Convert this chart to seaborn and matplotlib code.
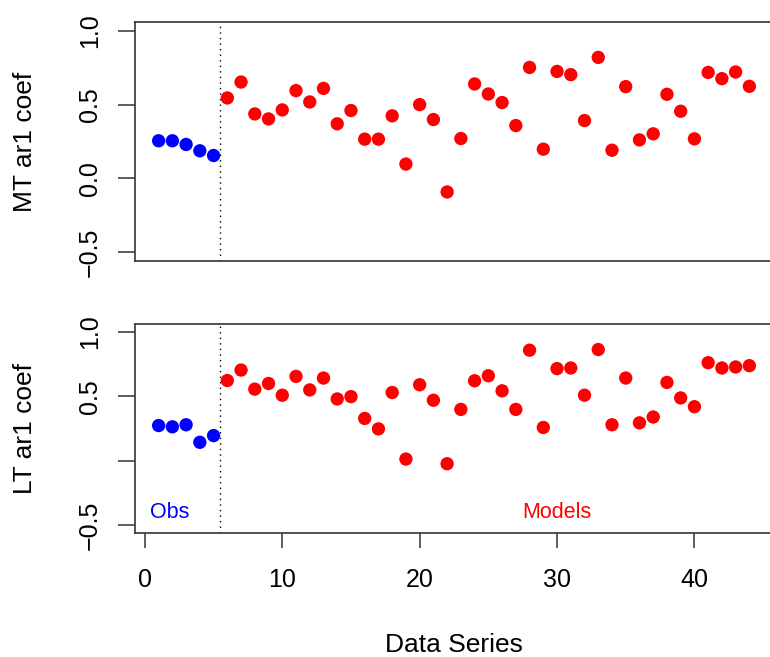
import numpy as np
import pandas as pd
import matplotlib
matplotlib.use("Agg")
import matplotlib.pyplot as plt
import seaborn as sns

# AR(1) coefficients: 5 observational series followed by 39 model runs
obs_mt = [0.255, 0.255, 0.23, 0.187, 0.155]
models_mt = [0.545, 0.653, 0.437, 0.403, 0.464, 0.595, 0.518, 0.61, 0.37, 0.46,
             0.266, 0.266, 0.424, 0.097, 0.50, 0.399, -0.092, 0.27, 0.64, 0.572,
             0.514, 0.358, 0.752, 0.198, 0.725, 0.703, 0.392, 0.82, 0.191, 0.622,
             0.261, 0.302, 0.57, 0.455, 0.268, 0.718, 0.676, 0.721, 0.624]

obs_lt = [0.273, 0.263, 0.279, 0.143, 0.195]
models_lt = [0.622, 0.703, 0.555, 0.599, 0.508, 0.654, 0.549, 0.641, 0.479, 0.497,
             0.328, 0.247, 0.529, 0.013, 0.589, 0.469, -0.023, 0.398, 0.62, 0.659,
             0.542, 0.398, 0.857, 0.258, 0.714, 0.719, 0.508, 0.862, 0.279, 0.641,
             0.294, 0.339, 0.607, 0.487, 0.419, 0.76, 0.719, 0.727, 0.737]

panel_labels = ["MT ar1 coef", "LT ar1 coef"]
y_ticks = [-0.5, 0.0, 0.5, 1.0]
y_ticklabels_top = ["\u22120.5", "0.0", "0.5", "1.0"]
y_ticklabels_bottom = ["\u22120.5", "", "0.5", "1.0"]
x_ticks = [0, 10, 20, 30, 40]
x_label = "Data Series"

n_obs = len(obs_mt)
n_all = n_obs + len(models_mt)
series = np.arange(1, n_all + 1)
groups = ["Obs"] * n_obs + ["Models"] * len(models_mt)

df_mt = pd.DataFrame({"series": series, "coef": obs_mt + models_mt, "group": groups})
df_lt = pd.DataFrame({"series": series, "coef": obs_lt + models_lt, "group": groups})

sns.set_style("white")
plt.rcParams["font.family"] = ["Liberation Sans", "DejaVu Sans"]
for key in ["text.color", "axes.labelcolor", "xtick.labelcolor", "ytick.labelcolor"]:
    plt.rcParams[key] = "black"

W, H = 770, 657
fig = plt.figure(figsize=(W / 100, H / 100), dpi=100)

def frac_box(left, top, right, bottom):
    return [left / W, 1 - bottom / H, (right - left) / W, (bottom - top) / H]

ax_top = fig.add_axes(frac_box(135, 22, 773, 261))
ax_bot = fig.add_axes(frac_box(135, 324, 773, 533))

palette = {"Obs": "#0000FF", "Models": "#FF0000"}
tick_size = 18

for ax, df, lab, yt_labels in [
    (ax_top, df_mt, panel_labels[0], y_ticklabels_top),
    (ax_bot, df_lt, panel_labels[1], y_ticklabels_bottom),
]:
    sns.scatterplot(data=df, x="series", y="coef", hue="group", palette=palette,
                    s=92, linewidth=0, legend=False, ax=ax, zorder=3)
    ax.axvline(n_obs + 0.5, color="black", linestyle=(0, (1, 3)), linewidth=1.0, zorder=2)
    ax.set_xlim(-0.72, 45.72)
    ax.set_ylim(-0.56, 1.06)
    ax.set_yticks(y_ticks)
    ax.set_yticklabels(yt_labels, rotation=90, va="center")
    ax.tick_params(axis="y", length=12, width=1.1, pad=12, labelsize=tick_size,
                   color="#333333", labelcolor="black", left=True)
    for sp in ax.spines.values():
        sp.set_color("#333333")
        sp.set_linewidth(1.2)
    ax.set_xlabel("")
    ax.set_ylabel(lab, fontsize=19, va="center", color="black")
    ax.yaxis.set_label_coords(-0.172, 0.5)

ax_top.set_xticks([])

ax_bot.set_xticks(x_ticks)
ax_bot.tick_params(axis="x", length=11, width=1.1, pad=14, labelsize=tick_size,
                   color="#333333", labelcolor="black", bottom=True)
ax_bot.set_xlabel(x_label, fontsize=19, va="center", color="black")
ax_bot.xaxis.set_label_coords(0.5, -0.535)

ax_bot.text(1.82, -0.40, "Obs", color="#0000FF", fontsize=15.5, ha="center", va="center")
ax_bot.text(30, -0.40, "Models", color="#FF0000", fontsize=15.5, ha="center", va="center")

fig.savefig("out.png", dpi=100)
